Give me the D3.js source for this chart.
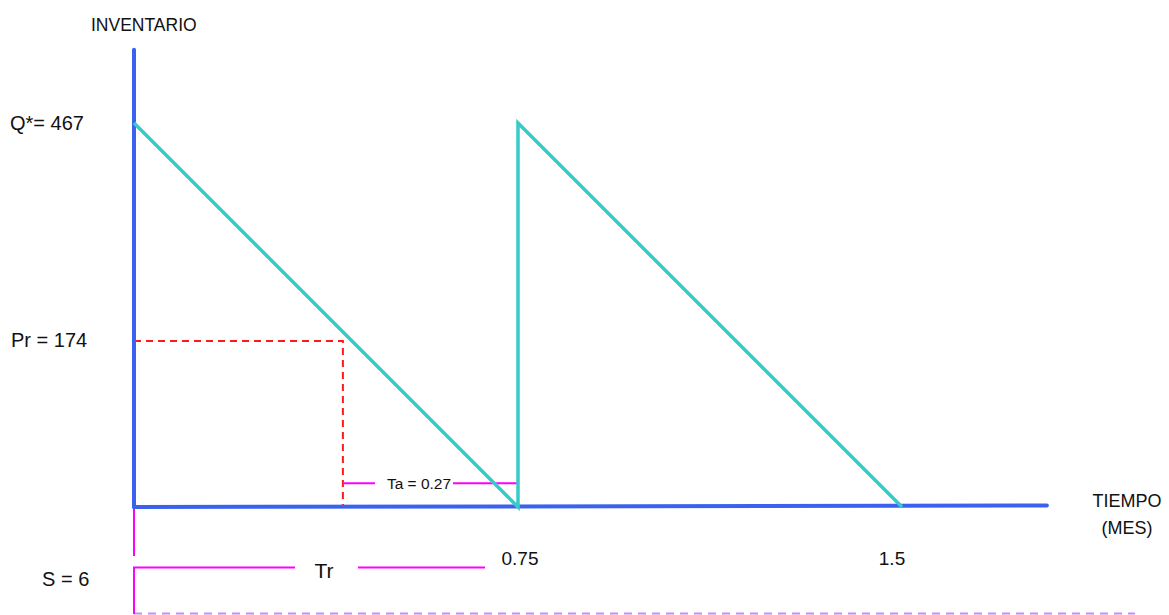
<!DOCTYPE html>
<html>
<head>
<meta charset="utf-8">
<script src="https://cdn.jsdelivr.net/npm/d3@7"></script>
<style>
  html, body { margin: 0; padding: 0; background: #ffffff; }
  svg { display: block; font-family: "Liberation Sans", Arial, sans-serif; }
</style>
</head>
<body>
<svg id="chart" width="1169" height="615"></svg>
<script>
// ---- data ----
const cycleTimes = [0, 0.75, 1.5];            // months (reorder cycles)
const cycleTickLabels = ["0.75", "1.5"];
const orderQuantity = 467;                      // Q*
const sawtoothTimes = [0, 0.75, 0.75, 1.5];
const sawtoothLevels = [467, 0, 467, 0];
const reorderTimeDrawn = 0.408;                 // schematic position of reorder point
const reorderLevelDrawn = 202;                  // schematic level of Pr line
const leadTimeLevelDrawn = 29;                  // level of Ta bracket
const axisLimits = [1.783, 556];                // axis extents (time, inventory)
const yLabels = ["Q*= 467", "Pr = 174"];
const leadTimeLabel = "Ta = 0.27";
const cycleLabel = "Tr";
const safetyLabel = "S = 6";
const axisTitles = ["INVENTARIO", "TIEMPO", "(MES)"];

// ---- scales ----
const svg = d3.select("#chart");
const x = d3.scaleLinear().domain([0, 1.5]).range([134, 902]);
const y = d3.scaleLinear().domain([0, orderQuantity]).range([507, 123]);

const BLUE = "#3a62ef", CYAN = "#36cbc8", RED = "#ff1a1a", MAG = "#ff00ff", LAV = "#c38cff";
const x0 = x(0), y0 = y(0);

// lavender dashed baseline (bottom)
svg.append("line")
  .attr("x1", x0).attr("x2", 1135).attr("y1", 613.5).attr("y2", 613.5)
  .attr("stroke", LAV).attr("stroke-width", 2).attr("stroke-dasharray", "8,6");

// magenta markers below axis
svg.append("line").attr("x1", x0).attr("x2", x0).attr("y1", y0 + 2).attr("y2", 556)
  .attr("stroke", MAG).attr("stroke-width", 2);
svg.append("path")
  .attr("d", `M${x0},614 V567.5 H295`)
  .attr("fill", "none").attr("stroke", MAG).attr("stroke-width", 2);
svg.append("line").attr("x1", 358).attr("x2", 485).attr("y1", 567.5).attr("y2", 567.5)
  .attr("stroke", MAG).attr("stroke-width", 2);

// red dashed reorder point
const rx = x(reorderTimeDrawn), ry = y(reorderLevelDrawn);
svg.append("path")
  .attr("d", `M${x0},${ry} H${rx} V${y0}`)
  .attr("fill", "none").attr("stroke", RED).attr("stroke-width", 2)
  .attr("stroke-dasharray", "7,5");

// Ta bracket
const ty = y(leadTimeLevelDrawn);
svg.append("line").attr("x1", rx).attr("x2", 375).attr("y1", ty).attr("y2", ty)
  .attr("stroke", MAG).attr("stroke-width", 2);
svg.append("line").attr("x1", 453).attr("x2", x(0.75)).attr("y1", ty).attr("y2", ty)
  .attr("stroke", MAG).attr("stroke-width", 2);
svg.append("text").attr("x", 419).attr("y", ty + 6).attr("text-anchor", "middle")
  .attr("font-size", 15.5).attr("fill", "#111").text(leadTimeLabel);

// axes
svg.append("line").attr("x1", x0).attr("x2", x0).attr("y1", y(axisLimits[1])).attr("y2", y0)
  .attr("stroke", BLUE).attr("stroke-width", 4).attr("stroke-linecap", "round");
svg.append("line").attr("x1", x0).attr("x2", x(axisLimits[0])).attr("y1", y0).attr("y2", y0 - 1.5)
  .attr("stroke", BLUE).attr("stroke-width", 4).attr("stroke-linecap", "round");

// sawtooth inventory line
const pts = sawtoothTimes.map((t, i) => [t, sawtoothLevels[i]]);
svg.append("path")
  .datum(pts)
  .attr("d", d3.line().x(d => x(d[0])).y(d => y(d[1])))
  .attr("fill", "none").attr("stroke", CYAN).attr("stroke-width", 3.5)
  .attr("stroke-linejoin", "miter");

// text labels
const txt = (s, tx, ty2, size, anchor) => svg.append("text")
  .attr("x", tx).attr("y", ty2).attr("font-size", size)
  .attr("text-anchor", anchor || "start").attr("fill", "#111").text(s);

txt(axisTitles[0], 91, 31, 17.5);
txt(yLabels[0], 10, 130, 20);
txt(yLabels[1], 11, 347, 20);
txt(safetyLabel, 42, 586, 20);
txt(cycleLabel, 324, 578, 21, "middle");
cycleTickLabels.forEach((s, i) => txt(s, x(cycleTimes[i + 1]) + (i === 0 ? 2 : -10), 565, 19, "middle"));
txt(axisTitles[1], 1127, 507, 18, "middle");
txt(axisTitles[2], 1127, 534, 18, "middle");
</script>
</body>
</html>
